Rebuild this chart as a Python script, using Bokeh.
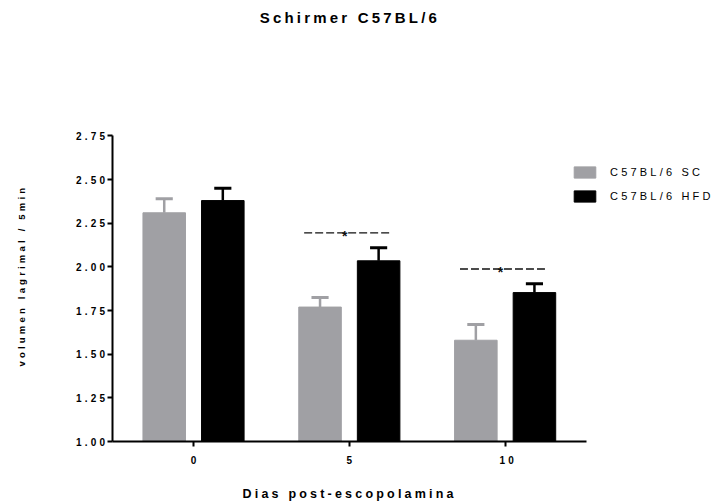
from bokeh.plotting import figure
from bokeh.models import (Range1d, FixedTicker, Legend, LegendItem, Label, Title,
                          InlineStyleSheet, ColumnDataSource)
from bokeh.core.properties import value
from bokeh.embed import file_html
from bokeh.resources import INLINE

# Schirmer test, tear volume per 5 min, by day after scopolamine
days = ["0", "5", "10"]
sc_mean = [2.31, 1.77, 1.58]
sc_sem = [0.08, 0.055, 0.09]
hfd_mean = [2.38, 2.035, 1.853]
hfd_sem = [0.07, 0.075, 0.05]
series_names = ["C57BL/6 SC", "C57BL/6 HFD"]
y_ticks = [1.00, 1.25, 1.50, 1.75, 2.00, 2.25, 2.50, 2.75]
significant_days = ["5", "10"]

GRAY = "#a0a0a4"
BLACK = "#000000"
FONT = "Liberation Sans"
SPACING = 3.2   # letter spacing of every text, px

bar_w = 0.273
dodge = 0.188
cap_w = 0.11

idx = list(range(len(days)))


def spread(text):
    # centre correction for letter-spaced text that is drawn from its left end
    return (len(text) - 1) * SPACING / 2


# the frame reaches the top and right edges so the title and legend sit inside it;
# the axes are bounded to the data area
W, H = 722, 502
LEFT, BOTTOM = 112, 61
X_END = 3.395
Y_END = 3.526
p = figure(width=W, height=H, output_backend="svg", toolbar_location=None,
           x_range=Range1d(-0.52, X_END), y_range=Range1d(1.0, Y_END),
           min_border_left=LEFT, min_border_right=0,
           min_border_top=0, min_border_bottom=BOTTOM)
p.stylesheets = [InlineStyleSheet(css=f":host {{ letter-spacing: {SPACING}px; }}")]
p.outline_line_color = None
p.grid.grid_line_color = None
p.background_fill_color = "white"

px_x = (W - LEFT) / (X_END + 0.52)      # pixels per category step
px_y = (H - BOTTOM) / (Y_END - 1.0)     # pixels per unit of tear volume

renderers = []
for means, sems, color, off in ((sc_mean, sc_sem, GRAY, -dodge),
                                (hfd_mean, hfd_sem, BLACK, dodge)):
    xs = [i + off for i in idx]
    tops = [m + s for m, s in zip(means, sems)]
    src = ColumnDataSource(dict(x=xs, top=means, err=tops,
                                x0=[x - cap_w / 2 for x in xs],
                                x1=[x + cap_w / 2 for x in xs]))
    p.segment(x0="x", y0="top", x1="x", y1="err", source=src,
              line_color=color, line_width=2.5)
    p.segment(x0="x0", y0="err", x1="x1", y1="err", source=src,
              line_color=color, line_width=3)
    r = p.vbar(x="x", top="top", bottom=1.0, width=bar_w, source=src,
               fill_color=color, line_color=color)
    renderers.append(r)

# significance markers between the two groups
sig_x0, sig_x1, sig_star, sig_y = [], [], [], []
for d in significant_days:
    i = days.index(d)
    sig_x0.append(i - 0.29)
    sig_x1.append(i + 0.26)
    sig_star.append(i - 0.03)
    sig_y.append(hfd_mean[i] + hfd_sem[i] + 0.085)
p.segment(x0=sig_x0, y0=sig_y, x1=sig_x1, y1=sig_y, line_color="#111111",
          line_width=1.3, line_dash="8 3")
p.text(x=sig_star, y=sig_y, text=["*"] * len(sig_y), text_align="center",
       text_baseline="middle", text_font=value(FONT), text_font_size="14px",
       text_font_style="bold", text_color="#111111", y_offset=3)

# chart title, centred over the middle group near the top edge
title_text = "Schirmer C57BL/6"
p.add_layout(Label(x=1.0 - (1 + spread(title_text)) / px_x,
                   y=2.75 + 118 / px_y, text=title_text,
                   text_align="center", text_baseline="middle",
                   text_font=FONT, text_font_size="15px",
                   text_font_style="bold", text_color="black"))

# axis titles, set in the side panels and placed from their start
has_padding = "padding" in Title.properties()
xlabel_text = "Dias post-escopolamina"
xlabel = Title(text=xlabel_text, align="left", offset=130,
               text_font=FONT, text_font_size="12.5px",
               text_font_style="bold", text_color="black")
ylabel_text = "volumen lagrimal / 5min"
ylabel = Title(text=ylabel_text, align="left", offset=75,
               text_font=FONT, text_font_size="9.5px",
               text_font_style="bold", text_color="black")
if has_padding:
    xlabel.vertical_align = "top"
    xlabel.standoff = 0
    xlabel.padding = dict(left=0, right=0, top=20, bottom=0)
    ylabel.vertical_align = "bottom"
    ylabel.standoff = 0
    ylabel.padding = dict(left=0, right=0, top=0, bottom=47)
else:
    xlabel.standoff = 10
    ylabel.standoff = 50
p.add_layout(xlabel, "below")
p.add_layout(ylabel, "left")

legend = Legend(items=[LegendItem(label=n, renderers=[r])
                       for n, r in zip(series_names, renderers)],
                location=(459, 238), orientation="vertical",
                glyph_width=27, glyph_height=14, label_height=14,
                label_standoff=12, spacing=10, padding=0, margin=0,
                border_line_color=None, background_fill_alpha=0,
                label_text_font=FONT, label_text_font_size="11px",
                label_text_color="black", label_text_baseline="middle")
p.add_layout(legend, "center")

for ax in (p.xaxis[0], p.yaxis[0]):
    ax.axis_line_width = 2
    ax.axis_line_color = "black"
    ax.major_tick_line_width = 2
    ax.major_tick_line_color = "black"
    ax.major_tick_out = 5
    ax.major_tick_in = 0
    ax.minor_tick_line_color = None
    ax.major_label_text_font = FONT
    ax.major_label_text_font_style = "bold"
    ax.major_label_text_font_size = "10px"
    ax.major_label_text_color = "black"

p.xaxis.bounds = (-0.52, 2.52)
p.xaxis.ticker = FixedTicker(ticks=idx)
p.xaxis.major_label_overrides = {i: d for i, d in zip(idx, days)}
p.xaxis.major_label_standoff = 9

p.yaxis.bounds = (1.0, 2.75)
p.yaxis.ticker = FixedTicker(ticks=y_ticks)
p.yaxis.major_label_overrides = {t: f"{t:.2f}" for t in y_ticks}
p.yaxis.major_label_standoff = 12

open("out.html", "w").write(file_html(p, INLINE))
